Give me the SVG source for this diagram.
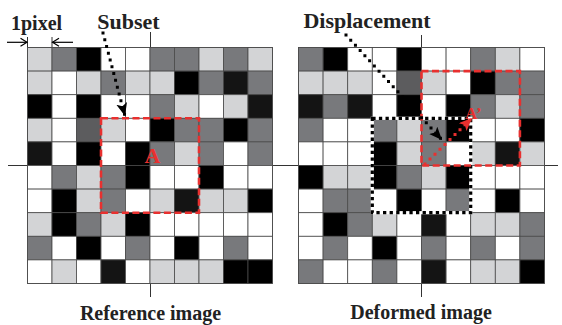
<svg xmlns="http://www.w3.org/2000/svg" width="562" height="325" viewBox="0 0 562 325">
<defs>
<style>
.g rect{stroke:#4a4a4a;stroke-width:0.8}
.W{fill:#ffffff}.L{fill:#d3d4d6}.M{fill:#78797c}.D{fill:#5c5c5e}.N{fill:#141414}.B{fill:#000000}
.frame{fill:none;stroke:#000;stroke-width:2.6}
.axis{stroke:#333;stroke-width:1;fill:none}
.t{font-family:"Liberation Serif","Times New Roman",serif;font-weight:bold;fill:#222}
.red{fill:none;stroke:#e8302f;stroke-width:2.6;stroke-dasharray:7 3.5}
.bdot{fill:none;stroke:#000;stroke-width:3;stroke-linecap:square;stroke-dasharray:0 7}
.rdot{fill:none;stroke:#e8302f;stroke-width:3;stroke-linecap:square;stroke-dasharray:0 7}
</style>
<marker id="ab" markerUnits="userSpaceOnUse" markerWidth="14" markerHeight="12" refX="13" refY="5.5" orient="auto"><path d="M0,0 L13,5.5 L0,11 L3,5.5 z" fill="#000"/></marker>
<marker id="ar" markerUnits="userSpaceOnUse" markerWidth="14" markerHeight="12" refX="13" refY="5.5" orient="auto"><path d="M0,0 L13,5.5 L0,11 L3,5.5 z" fill="#e8302f"/></marker>
</defs>
<rect width="562" height="325" fill="#fff"/>

<g id="axes">
<line class="axis" x1="8" y1="165.5" x2="558" y2="165.5"/>
<line class="axis" x1="150.5" y1="32" x2="150.5" y2="47"/>
<line class="axis" x1="150.5" y1="284" x2="150.5" y2="297"/>
<line class="axis" x1="421.5" y1="35" x2="421.5" y2="47"/>
<line class="axis" x1="421.5" y1="284" x2="421.5" y2="297"/>
</g>

<g id="reference-grid" class="g">
<g transform="translate(27.5,47.5)">
<rect class="L" x="0" y="0" width="24.5" height="23.6"/><rect class="M" x="24.5" y="0" width="24.5" height="23.6"/><rect class="B" x="49" y="0" width="24.5" height="23.6"/><rect class="W" x="73.5" y="0" width="24.5" height="23.6"/><rect class="W" x="98" y="0" width="24.5" height="23.6"/><rect class="M" x="122.5" y="0" width="24.5" height="23.6"/><rect class="M" x="147" y="0" width="24.5" height="23.6"/><rect class="L" x="171.5" y="0" width="24.5" height="23.6"/><rect class="M" x="196" y="0" width="24.5" height="23.6"/><rect class="L" x="220.5" y="0" width="24.5" height="23.6"/>
<rect class="L" x="0" y="23.6" width="24.5" height="23.6"/><rect class="W" x="24.5" y="23.6" width="24.5" height="23.6"/><rect class="L" x="49" y="23.6" width="24.5" height="23.6"/><rect class="M" x="73.5" y="23.6" width="24.5" height="23.6"/><rect class="L" x="98" y="23.6" width="24.5" height="23.6"/><rect class="L" x="122.5" y="23.6" width="24.5" height="23.6"/><rect class="B" x="147" y="23.6" width="24.5" height="23.6"/><rect class="M" x="171.5" y="23.6" width="24.5" height="23.6"/><rect class="N" x="196" y="23.6" width="24.5" height="23.6"/><rect class="M" x="220.5" y="23.6" width="24.5" height="23.6"/>
<rect class="B" x="0" y="47.2" width="24.5" height="23.6"/><rect class="W" x="24.5" y="47.2" width="24.5" height="23.6"/><rect class="B" x="49" y="47.2" width="24.5" height="23.6"/><rect class="W" x="73.5" y="47.2" width="24.5" height="23.6"/><rect class="W" x="98" y="47.2" width="24.5" height="23.6"/><rect class="M" x="122.5" y="47.2" width="24.5" height="23.6"/><rect class="L" x="147" y="47.2" width="24.5" height="23.6"/><rect class="W" x="171.5" y="47.2" width="24.5" height="23.6"/><rect class="L" x="196" y="47.2" width="24.5" height="23.6"/><rect class="N" x="220.5" y="47.2" width="24.5" height="23.6"/>
<rect class="L" x="0" y="70.8" width="24.5" height="23.6"/><rect class="W" x="24.5" y="70.8" width="24.5" height="23.6"/><rect class="D" x="49" y="70.8" width="24.5" height="23.6"/><rect class="L" x="73.5" y="70.8" width="24.5" height="23.6"/><rect class="W" x="98" y="70.8" width="24.5" height="23.6"/><rect class="B" x="122.5" y="70.8" width="24.5" height="23.6"/><rect class="M" x="147" y="70.8" width="24.5" height="23.6"/><rect class="M" x="171.5" y="70.8" width="24.5" height="23.6"/><rect class="B" x="196" y="70.8" width="24.5" height="23.6"/><rect class="M" x="220.5" y="70.8" width="24.5" height="23.6"/>
<rect class="N" x="0" y="94.4" width="24.5" height="23.6"/><rect class="W" x="24.5" y="94.4" width="24.5" height="23.6"/><rect class="B" x="49" y="94.4" width="24.5" height="23.6"/><rect class="W" x="73.5" y="94.4" width="24.5" height="23.6"/><rect class="B" x="98" y="94.4" width="24.5" height="23.6"/><rect class="M" x="122.5" y="94.4" width="24.5" height="23.6"/><rect class="L" x="147" y="94.4" width="24.5" height="23.6"/><rect class="M" x="171.5" y="94.4" width="24.5" height="23.6"/><rect class="W" x="196" y="94.4" width="24.5" height="23.6"/><rect class="M" x="220.5" y="94.4" width="24.5" height="23.6"/>
<rect class="W" x="0" y="118" width="24.5" height="23.6"/><rect class="M" x="24.5" y="118" width="24.5" height="23.6"/><rect class="L" x="49" y="118" width="24.5" height="23.6"/><rect class="M" x="73.5" y="118" width="24.5" height="23.6"/><rect class="B" x="98" y="118" width="24.5" height="23.6"/><rect class="W" x="122.5" y="118" width="24.5" height="23.6"/><rect class="W" x="147" y="118" width="24.5" height="23.6"/><rect class="B" x="171.5" y="118" width="24.5" height="23.6"/><rect class="W" x="196" y="118" width="24.5" height="23.6"/><rect class="W" x="220.5" y="118" width="24.5" height="23.6"/>
<rect class="W" x="0" y="141.6" width="24.5" height="23.6"/><rect class="B" x="24.5" y="141.6" width="24.5" height="23.6"/><rect class="L" x="49" y="141.6" width="24.5" height="23.6"/><rect class="M" x="73.5" y="141.6" width="24.5" height="23.6"/><rect class="W" x="98" y="141.6" width="24.5" height="23.6"/><rect class="L" x="122.5" y="141.6" width="24.5" height="23.6"/><rect class="N" x="147" y="141.6" width="24.5" height="23.6"/><rect class="L" x="171.5" y="141.6" width="24.5" height="23.6"/><rect class="L" x="196" y="141.6" width="24.5" height="23.6"/><rect class="B" x="220.5" y="141.6" width="24.5" height="23.6"/>
<rect class="L" x="0" y="165.2" width="24.5" height="23.6"/><rect class="B" x="24.5" y="165.2" width="24.5" height="23.6"/><rect class="M" x="49" y="165.2" width="24.5" height="23.6"/><rect class="L" x="73.5" y="165.2" width="24.5" height="23.6"/><rect class="B" x="98" y="165.2" width="24.5" height="23.6"/><rect class="W" x="122.5" y="165.2" width="24.5" height="23.6"/><rect class="W" x="147" y="165.2" width="24.5" height="23.6"/><rect class="W" x="171.5" y="165.2" width="24.5" height="23.6"/><rect class="W" x="196" y="165.2" width="24.5" height="23.6"/><rect class="W" x="220.5" y="165.2" width="24.5" height="23.6"/>
<rect class="M" x="0" y="188.8" width="24.5" height="23.6"/><rect class="W" x="24.5" y="188.8" width="24.5" height="23.6"/><rect class="B" x="49" y="188.8" width="24.5" height="23.6"/><rect class="W" x="73.5" y="188.8" width="24.5" height="23.6"/><rect class="M" x="98" y="188.8" width="24.5" height="23.6"/><rect class="W" x="122.5" y="188.8" width="24.5" height="23.6"/><rect class="B" x="147" y="188.8" width="24.5" height="23.6"/><rect class="W" x="171.5" y="188.8" width="24.5" height="23.6"/><rect class="M" x="196" y="188.8" width="24.5" height="23.6"/><rect class="W" x="220.5" y="188.8" width="24.5" height="23.6"/>
<rect class="W" x="0" y="212.4" width="24.5" height="23.6"/><rect class="L" x="24.5" y="212.4" width="24.5" height="23.6"/><rect class="W" x="49" y="212.4" width="24.5" height="23.6"/><rect class="N" x="73.5" y="212.4" width="24.5" height="23.6"/><rect class="W" x="98" y="212.4" width="24.5" height="23.6"/><rect class="L" x="122.5" y="212.4" width="24.5" height="23.6"/><rect class="L" x="147" y="212.4" width="24.5" height="23.6"/><rect class="L" x="171.5" y="212.4" width="24.5" height="23.6"/><rect class="B" x="196" y="212.4" width="24.5" height="23.6"/><rect class="B" x="220.5" y="212.4" width="24.5" height="23.6"/>
<rect class="frame" x="0" y="0" width="245" height="236"/>
</g>
</g>

<g id="deformed-grid" class="g">
<g transform="translate(298.5,47.5)">
<rect class="M" x="0" y="0" width="24.6" height="23.6"/><rect class="B" x="24.6" y="0" width="24.6" height="23.6"/><rect class="W" x="49.2" y="0" width="24.6" height="23.6"/><rect class="W" x="73.8" y="0" width="24.6" height="23.6"/><rect class="B" x="98.4" y="0" width="24.6" height="23.6"/><rect class="W" x="123" y="0" width="24.6" height="23.6"/><rect class="W" x="147.6" y="0" width="24.6" height="23.6"/><rect class="M" x="172.2" y="0" width="24.6" height="23.6"/><rect class="L" x="196.8" y="0" width="24.6" height="23.6"/><rect class="W" x="221.4" y="0" width="24.6" height="23.6"/>
<rect class="L" x="0" y="23.6" width="24.6" height="23.6"/><rect class="L" x="24.6" y="23.6" width="24.6" height="23.6"/><rect class="L" x="49.2" y="23.6" width="24.6" height="23.6"/><rect class="W" x="73.8" y="23.6" width="24.6" height="23.6"/><rect class="D" x="98.4" y="23.6" width="24.6" height="23.6"/><rect class="L" x="123" y="23.6" width="24.6" height="23.6"/><rect class="W" x="147.6" y="23.6" width="24.6" height="23.6"/><rect class="B" x="172.2" y="23.6" width="24.6" height="23.6"/><rect class="M" x="196.8" y="23.6" width="24.6" height="23.6"/><rect class="M" x="221.4" y="23.6" width="24.6" height="23.6"/>
<rect class="N" x="0" y="47.2" width="24.6" height="23.6"/><rect class="M" x="24.6" y="47.2" width="24.6" height="23.6"/><rect class="N" x="49.2" y="47.2" width="24.6" height="23.6"/><rect class="W" x="73.8" y="47.2" width="24.6" height="23.6"/><rect class="B" x="98.4" y="47.2" width="24.6" height="23.6"/><rect class="W" x="123" y="47.2" width="24.6" height="23.6"/><rect class="B" x="147.6" y="47.2" width="24.6" height="23.6"/><rect class="M" x="172.2" y="47.2" width="24.6" height="23.6"/><rect class="L" x="196.8" y="47.2" width="24.6" height="23.6"/><rect class="M" x="221.4" y="47.2" width="24.6" height="23.6"/>
<rect class="M" x="0" y="70.8" width="24.6" height="23.6"/><rect class="W" x="24.6" y="70.8" width="24.6" height="23.6"/><rect class="W" x="49.2" y="70.8" width="24.6" height="23.6"/><rect class="M" x="73.8" y="70.8" width="24.6" height="23.6"/><rect class="L" x="98.4" y="70.8" width="24.6" height="23.6"/><rect class="M" x="123" y="70.8" width="24.6" height="23.6"/><rect class="B" x="147.6" y="70.8" width="24.6" height="23.6"/><rect class="W" x="172.2" y="70.8" width="24.6" height="23.6"/><rect class="W" x="196.8" y="70.8" width="24.6" height="23.6"/><rect class="B" x="221.4" y="70.8" width="24.6" height="23.6"/>
<rect class="W" x="0" y="94.4" width="24.6" height="23.6"/><rect class="W" x="24.6" y="94.4" width="24.6" height="23.6"/><rect class="W" x="49.2" y="94.4" width="24.6" height="23.6"/><rect class="B" x="73.8" y="94.4" width="24.6" height="23.6"/><rect class="L" x="98.4" y="94.4" width="24.6" height="23.6"/><rect class="M" x="123" y="94.4" width="24.6" height="23.6"/><rect class="W" x="147.6" y="94.4" width="24.6" height="23.6"/><rect class="L" x="172.2" y="94.4" width="24.6" height="23.6"/><rect class="N" x="196.8" y="94.4" width="24.6" height="23.6"/><rect class="L" x="221.4" y="94.4" width="24.6" height="23.6"/>
<rect class="B" x="0" y="118" width="24.6" height="23.6"/><rect class="L" x="24.6" y="118" width="24.6" height="23.6"/><rect class="L" x="49.2" y="118" width="24.6" height="23.6"/><rect class="B" x="73.8" y="118" width="24.6" height="23.6"/><rect class="M" x="98.4" y="118" width="24.6" height="23.6"/><rect class="L" x="123" y="118" width="24.6" height="23.6"/><rect class="B" x="147.6" y="118" width="24.6" height="23.6"/><rect class="W" x="172.2" y="118" width="24.6" height="23.6"/><rect class="W" x="196.8" y="118" width="24.6" height="23.6"/><rect class="W" x="221.4" y="118" width="24.6" height="23.6"/>
<rect class="W" x="0" y="141.6" width="24.6" height="23.6"/><rect class="M" x="24.6" y="141.6" width="24.6" height="23.6"/><rect class="M" x="49.2" y="141.6" width="24.6" height="23.6"/><rect class="W" x="73.8" y="141.6" width="24.6" height="23.6"/><rect class="B" x="98.4" y="141.6" width="24.6" height="23.6"/><rect class="W" x="123" y="141.6" width="24.6" height="23.6"/><rect class="M" x="147.6" y="141.6" width="24.6" height="23.6"/><rect class="W" x="172.2" y="141.6" width="24.6" height="23.6"/><rect class="B" x="196.8" y="141.6" width="24.6" height="23.6"/><rect class="W" x="221.4" y="141.6" width="24.6" height="23.6"/>
<rect class="W" x="0" y="165.2" width="24.6" height="23.6"/><rect class="B" x="24.6" y="165.2" width="24.6" height="23.6"/><rect class="M" x="49.2" y="165.2" width="24.6" height="23.6"/><rect class="L" x="73.8" y="165.2" width="24.6" height="23.6"/><rect class="W" x="98.4" y="165.2" width="24.6" height="23.6"/><rect class="N" x="123" y="165.2" width="24.6" height="23.6"/><rect class="W" x="147.6" y="165.2" width="24.6" height="23.6"/><rect class="L" x="172.2" y="165.2" width="24.6" height="23.6"/><rect class="L" x="196.8" y="165.2" width="24.6" height="23.6"/><rect class="M" x="221.4" y="165.2" width="24.6" height="23.6"/>
<rect class="W" x="0" y="188.8" width="24.6" height="23.6"/><rect class="M" x="24.6" y="188.8" width="24.6" height="23.6"/><rect class="W" x="49.2" y="188.8" width="24.6" height="23.6"/><rect class="B" x="73.8" y="188.8" width="24.6" height="23.6"/><rect class="W" x="98.4" y="188.8" width="24.6" height="23.6"/><rect class="M" x="123" y="188.8" width="24.6" height="23.6"/><rect class="W" x="147.6" y="188.8" width="24.6" height="23.6"/><rect class="M" x="172.2" y="188.8" width="24.6" height="23.6"/><rect class="W" x="196.8" y="188.8" width="24.6" height="23.6"/><rect class="M" x="221.4" y="188.8" width="24.6" height="23.6"/>
<rect class="M" x="0" y="212.4" width="24.6" height="23.6"/><rect class="W" x="24.6" y="212.4" width="24.6" height="23.6"/><rect class="W" x="49.2" y="212.4" width="24.6" height="23.6"/><rect class="M" x="73.8" y="212.4" width="24.6" height="23.6"/><rect class="W" x="98.4" y="212.4" width="24.6" height="23.6"/><rect class="N" x="123" y="212.4" width="24.6" height="23.6"/><rect class="W" x="147.6" y="212.4" width="24.6" height="23.6"/><rect class="L" x="172.2" y="212.4" width="24.6" height="23.6"/><rect class="L" x="196.8" y="212.4" width="24.6" height="23.6"/><rect class="B" x="221.4" y="212.4" width="24.6" height="23.6"/>
<rect class="frame" x="0" y="0" width="246" height="236"/>
</g>
</g>

<g id="pixel-scale">
<line class="axis" x1="27.5" y1="37" x2="27.5" y2="47"/>
<line class="axis" x1="52" y1="37" x2="52" y2="47"/>
<line x1="7" y1="42.3" x2="27" y2="42.3" stroke="#000" stroke-width="1.2"/>
<polyline points="20.5,38.3 27,42.3 20.5,46.3" fill="none" stroke="#000" stroke-width="1.2"/>
<line x1="73" y1="42.3" x2="52.5" y2="42.3" stroke="#000" stroke-width="1.2"/>
<polyline points="59,38.3 52.5,42.3 59,46.3" fill="none" stroke="#000" stroke-width="1.2"/>
<text class="t" x="11" y="30" font-size="20">1pixel</text>
</g>

<g id="subset-left">
<rect class="red" x="101" y="118.3" width="98" height="94.4"/>
<text x="152.5" y="163" font-size="22" text-anchor="middle" font-family="Liberation Serif, serif" font-weight="bold" fill="#e8302f">A</text>
</g>

<g id="subset-right">
<rect x="372.3" y="118.3" width="98.4" height="94.4" fill="none" stroke="#fff" stroke-width="3.2"/>
<rect x="372.3" y="118.3" width="98.4" height="94.4" fill="none" stroke="#000" stroke-width="3.2" stroke-dasharray="3.3 3.3"/>
<rect class="red" x="421.5" y="71.1" width="98.4" height="94.4"/>
<text x="465" y="118.5" font-size="17" font-family="Liberation Serif, serif" font-weight="bold" fill="#e8302f">A’</text>
</g>

<g id="connectors">
<path class="bdot" d="M103,33 L125,116" marker-end="url(#ab)"/>
<path class="bdot" d="M346,35 L442,140" marker-end="url(#ab)"/>
<path class="rdot" d="M425,164 L472,118" marker-end="url(#ar)"/>
</g>

<g id="labels">
<text class="t" x="128.5" y="28.5" font-size="22" text-anchor="middle">Subset</text>
<text class="t" x="367" y="27.5" font-size="22" text-anchor="middle">Displacement</text>
<text class="t" x="150.5" y="320" font-size="20" text-anchor="middle">Reference image</text>
<text class="t" x="421" y="318.5" font-size="20" text-anchor="middle">Deformed image</text>
</g>
</svg>
